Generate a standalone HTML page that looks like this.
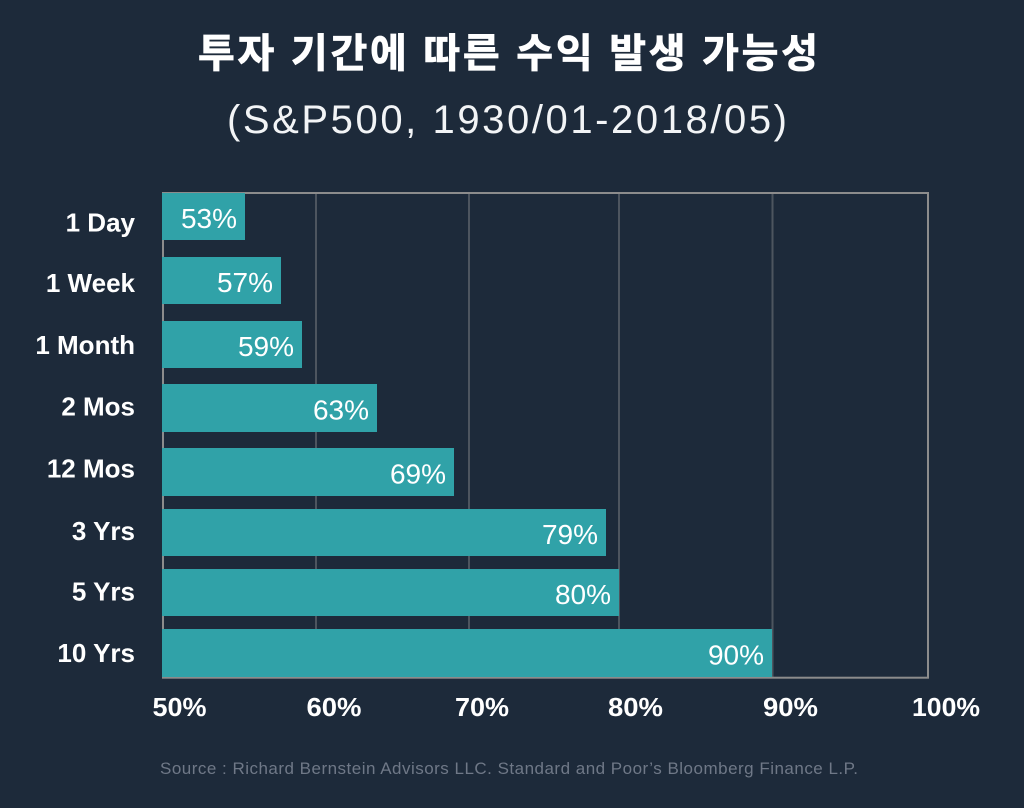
<!DOCTYPE html>
<html>
<head>
<meta charset="utf-8">
<style>
  html, body { margin:0; padding:0; background:#1d2a3a; }
  body { width:1024px; height:808px; overflow:hidden; }
  svg { display:block; }
</style>
</head>
<body>
<svg width="1024" height="808" viewBox="0 0 1024 808" xmlns="http://www.w3.org/2000/svg">
  <rect x="0" y="0" width="1024" height="808" fill="#1d2a3a"/>

  <!-- Title -->
  <text x="198" y="67" font-size="40" font-weight="bold" fill="#ffffff" stroke="#ffffff" stroke-width="0.8" textLength="620" lengthAdjust="spacing" font-family="'Liberation Sans','Noto Sans CJK KR',sans-serif">투자 기간에 따른 수익 발생 가능성</text>
  <text x="227" y="133" font-size="40" fill="#f2f4f6" textLength="560" lengthAdjust="spacing" font-family="'Liberation Sans',sans-serif">(S&amp;P500, 1930/01-2018/05)</text>

  <!-- gridlines -->
  <g stroke="#4d555f" stroke-width="2">
    <line x1="316" y1="193" x2="316" y2="677"/>
    <line x1="469" y1="193" x2="469" y2="677"/>
    <line x1="619" y1="193" x2="619" y2="677"/>
    <line x1="772.5" y1="193" x2="772.5" y2="677"/>
  </g>

  <!-- frame -->
  <rect x="163" y="193" width="765" height="484.7" fill="none" stroke="#8c8c8c" stroke-width="2"/>

  <!-- bars -->
  <g fill="#30a2a8">
    <rect x="162" y="193" width="83" height="47"/>
    <rect x="162" y="257" width="119" height="47"/>
    <rect x="162" y="321" width="140" height="47"/>
    <rect x="162" y="384" width="215" height="48"/>
    <rect x="162" y="448" width="292" height="48"/>
    <rect x="162" y="509" width="444" height="47"/>
    <rect x="162" y="569" width="457" height="47"/>
    <rect x="162" y="629" width="610" height="48"/>
  </g>

  <!-- value labels -->
  <g font-family="'Liberation Sans',sans-serif" font-size="28" fill="#ffffff" text-anchor="end">
    <text x="237" y="228">53%</text>
    <text x="273" y="292">57%</text>
    <text x="294" y="356">59%</text>
    <text x="369" y="419.5">63%</text>
    <text x="446" y="483.5">69%</text>
    <text x="598" y="544">79%</text>
    <text x="611" y="604">80%</text>
    <text x="764" y="664.5">90%</text>
  </g>

  <!-- category labels -->
  <g font-family="'Liberation Sans',sans-serif" font-size="26" font-weight="bold" fill="#ffffff" text-anchor="end">
    <text x="135" y="231.5">1 Day</text>
    <text x="135" y="292">1 Week</text>
    <text x="135" y="354">1 Month</text>
    <text x="135" y="415.5">2 Mos</text>
    <text x="135" y="477.5">12 Mos</text>
    <text x="135" y="540">3 Yrs</text>
    <text x="135" y="600.5">5 Yrs</text>
    <text x="135" y="662">10 Yrs</text>
  </g>

  <!-- x axis tick labels -->
  <g font-family="'Liberation Sans',sans-serif" font-size="26" font-weight="bold" fill="#ffffff">
    <text x="152.5" y="716" textLength="54" lengthAdjust="spacingAndGlyphs">50%</text>
    <text x="306.5" y="716" textLength="55" lengthAdjust="spacingAndGlyphs">60%</text>
    <text x="455" y="716" textLength="54" lengthAdjust="spacingAndGlyphs">70%</text>
    <text x="608" y="716" textLength="55" lengthAdjust="spacingAndGlyphs">80%</text>
    <text x="763" y="716" textLength="55" lengthAdjust="spacingAndGlyphs">90%</text>
    <text x="912" y="716" textLength="68" lengthAdjust="spacingAndGlyphs">100%</text>
  </g>

  <!-- source -->
  <text x="160" y="774" font-family="'Liberation Sans',sans-serif" font-size="17" fill="#6f7887" textLength="698" lengthAdjust="spacing">Source : Richard Bernstein Advisors LLC. Standard and Poor’s Bloomberg Finance L.P.</text>
</svg>
</body>
</html>
